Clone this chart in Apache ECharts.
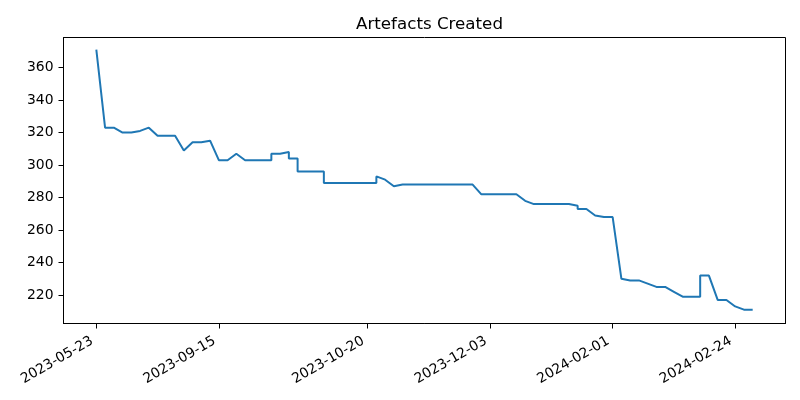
<!DOCTYPE html>
<html>
<head>
<meta charset="utf-8">
<script src="https://cdn.jsdelivr.net/npm/echarts@6/dist/echarts.min.js"></script>
<style>
  html, body { margin: 0; padding: 0; background: #fff; }
  #chart { width: 800px; height: 400px; }
</style>
</head>
<body>
<div id="chart"></div>
<script>
// x = sample index (repeated index means a jump at the same moment)
var xs = [0, 1, 2, 3, 4, 5, 6, 7, 8, 9, 10, 11, 12, 13, 14, 15, 16, 17, 18, 19,
  20, 20, 21, 22, 22, 23, 23, 24, 25, 26, 26, 27, 28, 29, 30, 31, 32, 32, 33, 34,
  35, 36, 37, 38, 39, 40, 41, 42, 43, 44, 45, 46, 47, 48, 49, 50, 51, 52, 53, 54,
  55, 55, 56, 57, 58, 59, 60, 61, 62, 63, 64, 65, 66, 67, 68, 69, 69, 70, 71, 72,
  73, 74, 75];
var counts = [371, 323, 323, 320, 320, 321, 323, 318, 318, 318, 309, 314, 314, 315, 303, 303, 307, 303, 303, 303,
  303, 307, 307, 308, 304, 304, 296, 296, 296, 296, 289, 289, 289, 289, 289, 289, 289, 293, 291, 287,
  288, 288, 288, 288, 288, 288, 288, 288, 288, 282, 282, 282, 282, 282, 278, 276, 276, 276, 276, 276,
  275, 273, 273, 269, 268, 268, 230, 229, 229, 227, 225, 225, 222, 219, 219, 219, 232, 232, 217, 217,
  213, 211, 211];

var tickPos = [0, 14, 31, 45, 59, 73];
var tickLabels = ['2023-05-23', '2023-09-15', '2023-10-20', '2023-12-03', '2024-02-01', '2024-02-24'];
var yTicks = [220, 240, 260, 280, 300, 320, 340, 360];

var chart = echarts.init(document.getElementById('chart'));
var font = 'DejaVu Sans';

var option = {
  animation: false,
  title: {
    text: 'Artefacts Created',
    left: 424.5,
    textAlign: 'center',
    top: 11,
    textStyle: { fontFamily: font, fontSize: 16.7, fontWeight: 'normal', color: '#000' }
  },
  grid: {
    left: 63.5, right: 14.5, top: 37.5, bottom: 76.5,
    show: true, borderColor: '#000', borderWidth: 1
  },
  xAxis: {
    type: 'value',
    min: -3.75,
    max: 78.75,
    axisLine: { show: true, onZero: false, lineStyle: { color: '#000', width: 1 } },
    axisTick: { show: true, customValues: tickPos, length: 5, lineStyle: { color: '#000' } },
    axisLabel: {
      customValues: tickPos,
      rotate: 30,
      margin: 14,
      padding: [0, 5, 0, 0],
      color: '#000',
      fontFamily: font,
      fontSize: 13.9,
      formatter: function (v) {
        var i = tickPos.indexOf(v);
        return i >= 0 ? tickLabels[i] : '';
      }
    },
    splitLine: { show: false }
  },
  yAxis: {
    type: 'value',
    min: 202.5,
    max: 378.5,
    axisLine: { show: true, onZero: false, lineStyle: { color: '#000', width: 1 } },
    axisTick: { show: true, customValues: yTicks, length: 5, lineStyle: { color: '#000' } },
    axisLabel: {
      customValues: yTicks,
      margin: 10,
      color: '#000',
      fontFamily: font,
      fontSize: 13.9
    },
    splitLine: { show: false }
  },
  series: [{
    type: 'line',
    data: xs.map(function (x, i) { return [x, counts[i]]; }),
    showSymbol: false,
    lineStyle: { color: '#1f77b4', width: 2 },
    itemStyle: { color: '#1f77b4' }
  }]
};
chart.setOption(option);
</script>
</body>
</html>
